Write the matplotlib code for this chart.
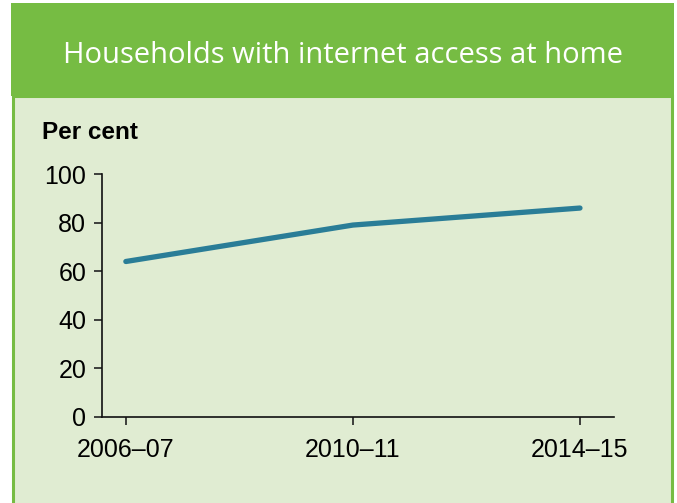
import matplotlib
matplotlib.use("Agg")
import matplotlib.pyplot as plt
from matplotlib.patches import Rectangle

# ── Data ─────────────────────────────────────────────────────────────
years  = ["2006–07", "2010–11", "2014–15"]
values = [64, 79, 86]
yticks = [0, 20, 40, 60, 80, 100]

GREEN = "#76bc43"
LIGHT = "#e0ecd2"
TEAL  = "#2a7d97"

fig = plt.figure(figsize=(6.77, 5.03), dpi=100)
fig.patch.set_facecolor("white")

# panel + header
fig.patches.append(Rectangle((0.0185, -0.05), 0.974, 0.86, transform=fig.transFigure,
                             facecolor=LIGHT, edgecolor=GREEN, linewidth=2.2, zorder=0))
fig.patches.append(Rectangle((0.0162, 0.809), 0.979, 0.185, transform=fig.transFigure,
                             facecolor=GREEN, edgecolor="none", zorder=1))
fig.text(0.506, 0.889, "Households with internet access at home", color="white",
         ha="center", va="center", fontsize=21, family="Open Sans", zorder=3)
fig.text(0.062, 0.737, "Per cent", ha="left", va="center", fontsize=17.5,
         fontweight="bold", family="Liberation Sans", zorder=3)

# ── Chart ────────────────────────────────────────────────────────────
ax = fig.add_axes([0.150, 0.171, 0.757, 0.483])
ax.set_zorder(2)
ax.set_facecolor("none")
x = list(range(len(years)))
ax.plot(x, values, color=TEAL, linewidth=3.8, solid_capstyle="round")
ax.set_xlim(-0.107, 2.15)
ax.set_ylim(0, 100)
ax.set_xticks(x)
ax.set_xticklabels(years)
ax.set_yticks(yticks)
for s in ["top", "right"]:
    ax.spines[s].set_visible(False)
for s in ["left", "bottom"]:
    ax.spines[s].set_linewidth(1.2)
    ax.spines[s].set_color("#111111")
ax.tick_params(length=6, width=1.2, color="#222222", labelsize=18)
ax.tick_params(axis="x", pad=9)
ax.tick_params(axis="y", pad=5)
for lbl in ax.get_xticklabels() + ax.get_yticklabels():
    lbl.set_family("Liberation Sans")

fig.savefig("out.png", dpi=100)
